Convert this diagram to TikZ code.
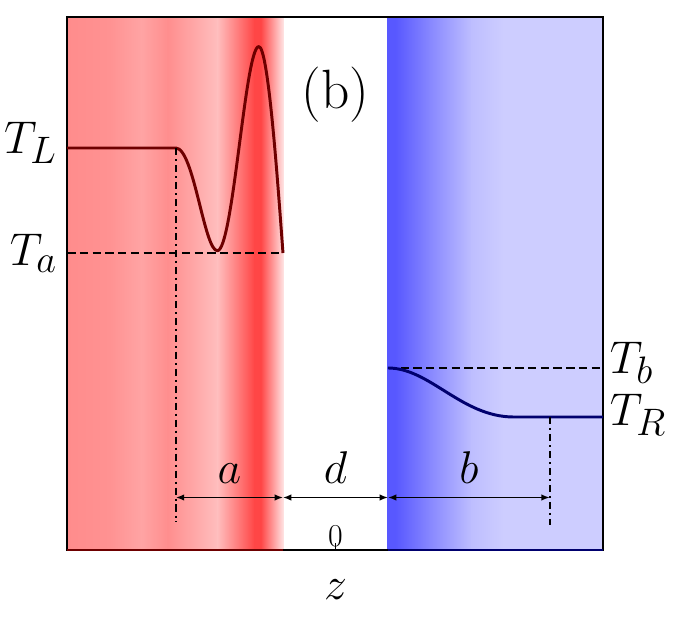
\documentclass[tikz,border=0pt]{standalone}
\usetikzlibrary{arrows.meta}

\definecolor{redA}{RGB}{255,140,140}
\definecolor{redB}{RGB}{255,146,146}
\definecolor{redC}{RGB}{255,164,164}
\definecolor{redD}{RGB}{255,142,142}
\definecolor{redE}{RGB}{255,190,190}
\definecolor{redF}{RGB}{255,70,70}
\definecolor{redG}{RGB}{255,228,228}
\definecolor{bluA}{RGB}{88,88,255}
\definecolor{bluB}{RGB}{135,135,255}
\definecolor{bluC}{RGB}{190,190,255}
\definecolor{bluD}{RGB}{205,205,255}
\definecolor{hotline}{RGB}{110,0,0}
\definecolor{coldline}{RGB}{0,0,110}

\tikzset{
    profile/.style={line width=1.6pt, line join=round},
    guide/.style={line width=1.3pt, dash pattern=on 4.5pt off 2.4pt},
    dropline/.style={line width=1.2pt, dash pattern=on 4pt off 2pt on 1.2pt off 2pt},
    span/.style={<->, line width=0.8pt, >={Latex[length=4.5pt, width=3.5pt]}},
    lbl/.style={font=\Huge, inner sep=0pt},
}

\begin{document}
\begin{tikzpicture}
    \pgfmathsetmacro{\hgt}{10.15}
    \pgfmathsetmacro{\xl}{-5.11}
    \pgfmathsetmacro{\xr}{5.095}
    \pgfmathsetmacro{\yTL}{7.657}
    \pgfmathsetmacro{\yTa}{5.657}
    \pgfmathsetmacro{\yTb}{3.467}
    \pgfmathsetmacro{\yTR}{2.533}
    \useasboundingbox (-6.39, -1.543) rectangle (6.467, 10.476);

    % hot side (left) and cold side (right)
    \foreach \xa/\xb/\ca/\cb in {-5.11/-4.3/redA/redB, -4.3/-3.7/redB/redC, -3.7/-3.2/redC/redD, -3.2/-2.25/redD/redE, -2.25/-1.55/redE/redF, -1.55/-1.42/redF/redF, -1.42/-1.0/redF/redG}
        \shade [left color=\ca, right color=\cb] (\xa, 0) rectangle (\xb+0.01, \hgt);
    \foreach \xa/\xb/\ca/\cb in {1/1.15/bluA/bluA, 1.15/1.8/bluA/bluB, 1.8/2.6/bluB/bluC, 2.6/3.2/bluC/bluD, 3.2/5.095/bluD/bluD}
        \shade [left color=\ca, right color=\cb] (\xa-0.01, 0) rectangle (\xb, \hgt);

    \draw [line width=1.1pt] (\xl, 0) rectangle (\xr, \hgt);
    \draw [line width=1.1pt, hotline] (\xl, 0) -- (-1, 0);
    \draw [line width=1.1pt, coldline] (1, 0) -- (\xr, 0);

    % temperature profiles
    \draw [guide] (\xl, \yTa) -- (-1, \yTa);
    \draw [guide] (1, \yTb) -- (\xr, \yTb);
    \draw [profile, hotline] (\xl, \yTL) -- (-3.04, \yTL) .. controls (-2.7, \yTL) and (-2.5, 5.70) .. (-2.25, 5.70) .. controls (-1.95, 5.70) and (-1.72, 9.59) .. (-1.46, 9.59) .. controls (-1.28, 9.59) and (-1.1, 7.0) .. (-1.0, \yTa);
    \draw [profile, coldline] (1, \yTb) .. controls (1.8, \yTb) and (2.4, \yTR) .. (3.4, \yTR) -- (\xr, \yTR);

    \node [lbl, anchor=base east] (TL) at (-5.30, 7.56) {$T_L$};
    \node [lbl, anchor=base east] (Ta) at (-5.30, 5.415) {$T_a$};
    \node [lbl, anchor=base west] (Tb) at (5.22, 3.37) {$T_b$};
    \node [lbl, anchor=base west] (TR) at (5.22, 2.38) {$T_R$};
    \node [inner sep=0pt, font=\fontsize{30}{36}\selectfont] (panel) at (0, 8.67) {(b)};

    % widths
    \coordinate (aL) at (-3.04, 1);
    \coordinate (aR) at (-1, 1);
    \coordinate (bL) at (1, 1);
    \coordinate (bR) at (4.08, 1);
    \draw [dropline] (-3.04, \yTL) -- (-3.04, 0.54);
    \draw [dropline] (4.08, \yTR) -- (4.08, 0.48);
    \draw [span] (aL) -- (aR) node [lbl, midway, anchor=base, yshift=0.27cm] (la) {$a$};
    \draw [span] (aR) -- (bL) node [lbl, midway, anchor=base, yshift=0.27cm] (ld) {$d$};
    \draw [span] (bL) -- (bR) node [lbl, midway, anchor=base, yshift=0.27cm] (lb) {$b$};

    \draw [line width=0.8pt] (0, 0) -- (0, 0.13);
    \node [font=\LARGE, inner sep=0pt] (zero) at (0, 0.27) {0};
    \node [lbl] (zaxis) at (0, -0.76) {$z$};
\end{tikzpicture}
\end{document}
